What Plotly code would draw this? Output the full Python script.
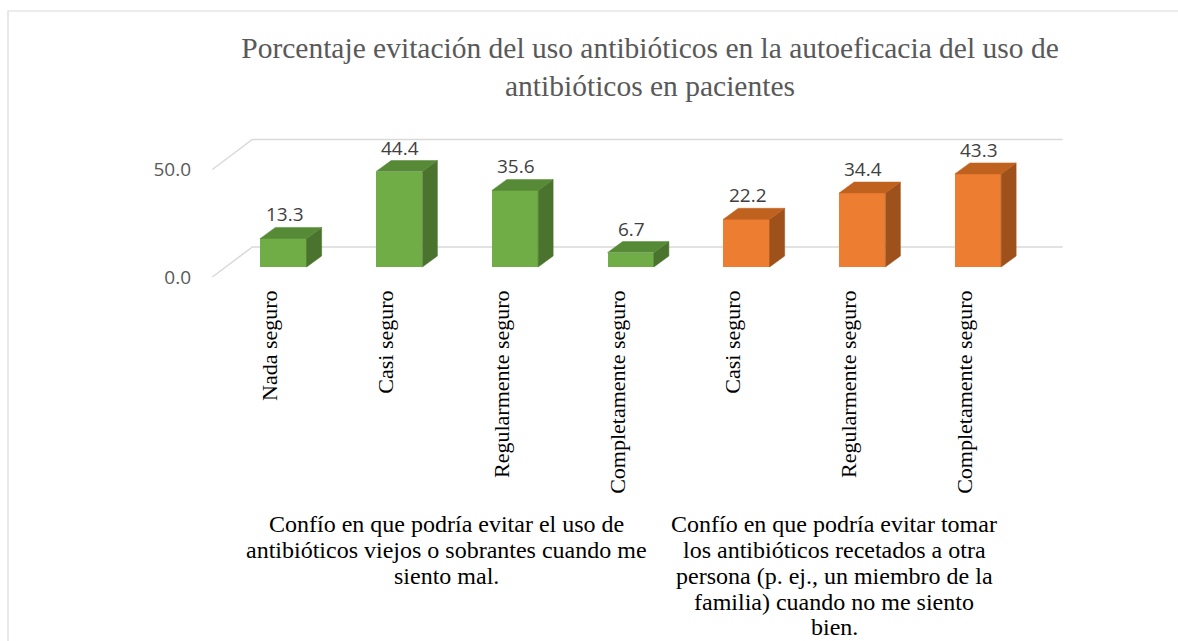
import plotly.graph_objects as go

# ---------------- data ----------------
categories = ["Nada seguro", "Casi seguro", "Regularmente seguro", "Completamente seguro",
              "Casi seguro", "Regularmente seguro", "Completamente seguro"]
values = [13.3, 44.4, 35.6, 6.7, 22.2, 34.4, 43.3]
groups = [0, 0, 0, 0, 1, 1, 1]
group_lines = [
    ["Confío en que podría evitar el uso de",
     "antibióticos viejos o sobrantes cuando me",
     "siento mal."],
    ["Confío en que podría evitar tomar",
     "los antibióticos recetados a otra",
     "persona (p. ej., un miembro de la",
     "familia) cuando no me siento",
     "bien."],
]
y_ticks = [0, 50]
title_text = ("Porcentaje evitación del uso antibióticos en la autoeficacia del uso de"
              "<br>antibióticos en pacientes")

# ---------------- styling / geometry ----------------
W, H = 1178, 641
PX_CAT = 115.75      # pixels per category
PX_VAL = 2.15        # pixels per value unit
X0_PX = 283.5        # pixel of category 0 (bar front plane)
Y0_PX = 267.0        # pixel of value 0 (bar front plane)
L, R, T, B = 200, 1100, 110, 285

front_col = ["#70AD47", "#ED7D31"]
top_col = ["#568A37", "#C0621F"]
side_col = ["#4A732D", "#9E511A"]
grid_col = "#D9D9D9"

BAR_W = 0.40
DDX = 15 / PX_CAT          # bar depth offset
DDY = 11 / PX_VAL
FX, FY = -13.3 / PX_CAT, -10 / PX_VAL   # floor front edge relative to bar plane
BX, BY = 26.7 / PX_CAT, 20 / PX_VAL     # back wall relative to bar plane

xr = [(L - X0_PX) / PX_CAT, (R - X0_PX) / PX_CAT]
yr = [(Y0_PX - B) / PX_VAL, (Y0_PX - T) / PX_VAL]


def px_to_paper_y(py):
    return (B - py) / (B - T)


def px_to_paper_x(px):
    return (px - L) / (R - L)


fig = go.Figure()
n = len(categories)

shapes = []
# back wall grid lines with floor diagonals (below all traces)
for g in y_ticks:
    shapes.append(dict(
        type="path", xref="x", yref="y", layer="below",
        path=(f"M {-0.5 + FX},{g + FY} L {-0.5 + BX},{g + BY} "
              f"L {n - 0.5 + BX},{g + BY}"),
        line=dict(color=grid_col, width=1.5)))

# outer chart border
shapes.append(dict(type="rect", xref="paper", yref="paper",
                   x0=px_to_paper_x(8), x1=px_to_paper_x(1300),
                   y0=px_to_paper_y(11), y1=px_to_paper_y(800),
                   line=dict(color="#D9D9D9", width=1.2),
                   fillcolor="rgba(0,0,0,0)", layer="below"))

# front faces
fig.add_trace(go.Bar(
    x=list(range(n)), y=values, width=BAR_W,
    marker=dict(color=[front_col[g] for g in groups], line=dict(width=0)),
    showlegend=False, hoverinfo="skip"))

# 3D side & top faces
for i, (v, gi) in enumerate(zip(values, groups)):
    x0, x1 = i - BAR_W / 2, i + BAR_W / 2
    fig.add_trace(go.Scatter(
        x=[x1, x1 + DDX, x1 + DDX, x1, x1],
        y=[0, DDY, v + DDY, v, 0],
        fill="toself", fillcolor=side_col[gi], mode="lines",
        line=dict(color=side_col[gi], width=0.5),
        hoverinfo="skip", showlegend=False))
    fig.add_trace(go.Scatter(
        x=[x0, x1, x1 + DDX, x0 + DDX, x0],
        y=[v, v, v + DDY, v + DDY, v],
        fill="toself", fillcolor=top_col[gi], mode="lines",
        line=dict(color=top_col[gi], width=0.5),
        hoverinfo="skip", showlegend=False))

annotations = []
# data labels
for i, v in enumerate(values):
    annotations.append(dict(
        x=i + 0.01, y=v, xref="x", yref="y", text=f"{v:.1f}", showarrow=False,
        yshift=24, yanchor="middle",
        font=dict(family="Open Sans", size=19, color="#404040")))

# group labels (one annotation per line)
group_centers_px = [446, 834]
line_y_px = [524, 550, 576, 601.5, 627]
for gi, lines in enumerate(group_lines):
    for k, line in enumerate(lines):
        annotations.append(dict(
            x=px_to_paper_x(group_centers_px[gi]), y=px_to_paper_y(line_y_px[k]),
            xref="paper", yref="paper", text=line, showarrow=False,
            xanchor="center", yanchor="middle",
            font=dict(family="Liberation Serif", size=24, color="#000000")))

fig.update_layout(
    width=W, height=H,
    margin=dict(l=L, r=W - R, t=T, b=H - B, autoexpand=False),
    paper_bgcolor="white", plot_bgcolor="white",
    bargap=0,
    title=dict(text=title_text, x=0.5, xanchor="center", xref="paper",
               y=1 - 58 / H, yref="container", yanchor="middle",
               font=dict(family="Liberation Serif", size=29.5, color="#595959")),
    xaxis=dict(range=xr, tickvals=[i + FX for i in range(n)], ticktext=categories,
               tickangle=-90, showgrid=False, zeroline=False, showline=False,
               ticks="", tickfont=dict(family="Liberation Serif", size=22, color="#000000")),
    yaxis=dict(range=yr, tickvals=[t + FY for t in y_ticks],
               ticktext=[f"{t:.1f}" for t in y_ticks],
               showgrid=False, zeroline=False, showline=False, ticks="",
               ticklabelstandoff=8,
               tickfont=dict(family="Open Sans", size=19, color="#595959")),
    annotations=annotations,
    shapes=shapes,
)

fig.write_html("out.html", config={"displayModeBar": False},
               post_script="document.body.style.margin='0px';")
